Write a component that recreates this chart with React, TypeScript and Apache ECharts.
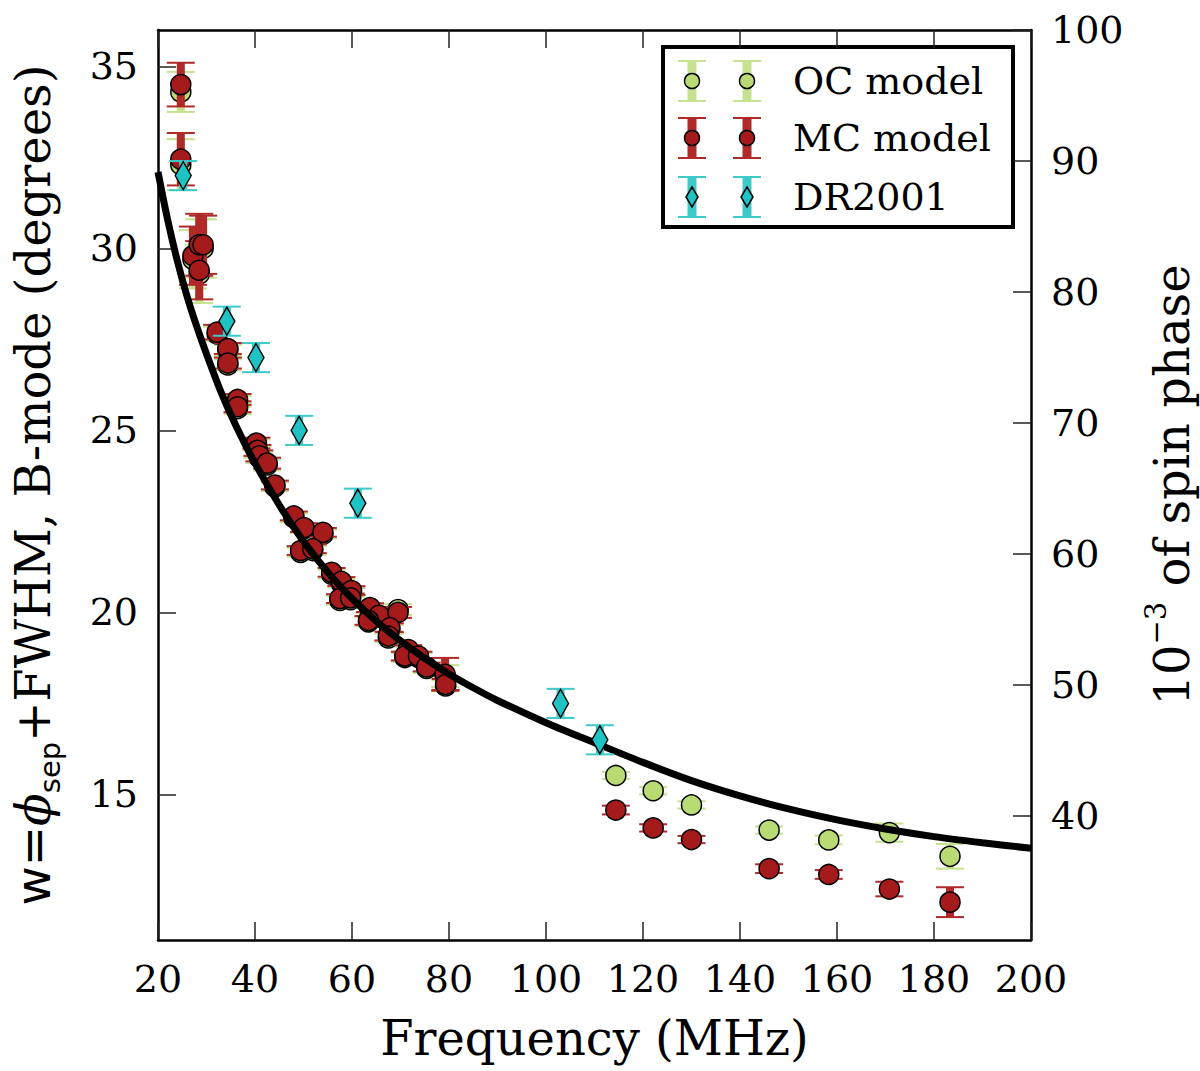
import { useEffect, useRef } from "react";
import * as echarts from "echarts";

const SERIF = '"DejaVu Serif", serif';
const SANS = '"DejaVu Sans", sans-serif';

// model frequencies (MHz), shared by OC and MC models
const modelFreq = [
  24.7, 24.7, 27.2, 28.5, 29.3, 28.5, 32.2, 34.4, 34.4, 36.4, 36.4, 40.3, 40.5, 40.9, 42.5,
  44.1, 48.0, 50.1, 54.0, 49.4, 51.9, 55.8, 57.8, 59.9, 57.5, 59.7, 63.7, 65.6, 69.5, 63.4,
  67.8, 67.5, 71.6, 70.9, 73.7, 75.4, 79.2, 79.3, 114.4, 122.1, 130.0, 146.0, 158.3, 170.8, 183.3,
];
const mcWidth = [
  34.5, 32.45, 29.8, 30.1, 30.1, 29.4, 27.7, 27.25, 26.85, 25.85, 25.65, 24.65, 24.45, 24.3, 24.1,
  23.5, 22.65, 22.33, 22.2, 21.7, 21.75, 21.1, 20.85, 20.6, 20.38, 20.4, 20.13, 19.92, 20.0, 19.78,
  19.58, 19.35, 18.98, 18.8, 18.8, 18.5, 18.3, 18.02, 14.57, 14.08, 13.76, 12.96, 12.8, 12.4, 12.04,
];
const mcErr = [
  0.6, 0.72, 0.8, 0.85, 0.8, 0.8, 0.2, 0.15, 0.15, 0.15, 0.15, 0.15, 0.15, 0.15, 0.15,
  0.12, 0.12, 0.12, 0.12, 0.12, 0.12, 0.12, 0.12, 0.12, 0.12, 0.12, 0.12, 0.12, 0.15, 0.12,
  0.12, 0.12, 0.12, 0.12, 0.12, 0.12, 0.45, 0.15, 0.12, 0.1, 0.1, 0.12, 0.12, 0.2, 0.41,
];
const ocWidth = [
  34.3, 32.3, 29.7, 30.0, 30.0, 29.3, 27.65, 27.2, 26.8, 25.8, 25.6, 24.6, 24.4, 24.25, 24.05,
  23.45, 22.6, 22.3, 22.15, 21.65, 21.7, 21.05, 20.8, 20.55, 20.33, 20.35, 20.1, 19.88, 20.08, 19.74,
  19.54, 19.3, 18.94, 18.76, 18.76, 18.46, 18.25, 17.98, 15.52, 15.1, 14.71, 14.02, 13.75, 13.95, 13.3,
];
const ocErr = [
  0.55, 0.7, 0.8, 0.8, 0.8, 0.8, 0.2, 0.15, 0.15, 0.15, 0.15, 0.15, 0.15, 0.15, 0.15,
  0.12, 0.12, 0.12, 0.12, 0.12, 0.12, 0.12, 0.12, 0.12, 0.12, 0.12, 0.12, 0.12, 0.15, 0.12,
  0.12, 0.12, 0.12, 0.12, 0.12, 0.12, 0.3, 0.15, 0.1, 0.1, 0.1, 0.1, 0.12, 0.25, 0.34,
];

// DR2001 measurements
const drFreq = [25.2, 34.2, 40.2, 49.1, 61.2, 103.0, 111.1];
const drWidth = [32.0, 28.0, 27.0, 25.0, 23.0, 17.5, 16.5];
const drErr = [0.4, 0.4, 0.4, 0.4, 0.4, 0.4, 0.4];

// fitted curve
const curveFreq = [
  20, 22, 24, 26, 28, 30, 33, 36, 40, 45, 50, 55, 60, 65, 70, 75, 80, 85, 90, 100,
  110, 120, 130, 140, 150, 160, 170, 180, 190, 200,
];
const curveWidth = [
  32.1, 30.78, 29.65, 28.68, 27.85, 27.1, 26.05, 25.15, 24.1, 22.95, 21.95, 21.1, 20.38, 19.76, 19.22,
  18.74, 18.31, 17.93, 17.58, 16.97, 16.42, 15.88, 15.38, 14.96, 14.6, 14.3, 14.05, 13.84, 13.67, 13.52,
];

const OC_FACE = "#b9db74";
const OC_BAR = "#c6e290";
const MC_FACE = "#a51b1b";
const MC_BAR = "#b02a2a";
const DR_FACE = "#1fc3c3";
const DR_BAR = "#3fcaca";

function errorBar(color: string, capHalf: number) {
  return (params: any, api: any) => {
    const x = api.value(0);
    const lo = api.coord([x, api.value(1)]);
    const hi = api.coord([x, api.value(2)]);
    return {
      type: "group",
      children: [
        {
          type: "line",
          shape: { x1: lo[0], y1: lo[1], x2: hi[0], y2: hi[1] },
          style: { stroke: color, lineWidth: 8 },
        },
        {
          type: "line",
          shape: { x1: lo[0] - capHalf, y1: lo[1], x2: lo[0] + capHalf, y2: lo[1] },
          style: { stroke: color, lineWidth: 2 },
        },
        {
          type: "line",
          shape: { x1: hi[0] - capHalf, y1: hi[1], x2: hi[0] + capHalf, y2: hi[1] },
          style: { stroke: color, lineWidth: 2 },
        },
      ],
    };
  };
}

function legendEntry(y: number, face: string, bar: string, diamond: boolean, label: string) {
  const items: any[] = [];
  [692, 747].forEach((x) => {
    items.push({
      type: "line",
      shape: { x1: x, y1: y - 20, x2: x, y2: y + 20 },
      style: { stroke: bar, lineWidth: 9 },
    });
    items.push({
      type: "line",
      shape: { x1: x - 14, y1: y - 20, x2: x + 14, y2: y - 20 },
      style: { stroke: bar, lineWidth: 2 },
    });
    items.push({
      type: "line",
      shape: { x1: x - 14, y1: y + 20, x2: x + 14, y2: y + 20 },
      style: { stroke: bar, lineWidth: 2 },
    });
    if (diamond) {
      items.push({
        type: "polygon",
        shape: { points: [[x, y - 10], [x + 6, y], [x, y + 10], [x - 6, y]] },
        style: { fill: face, stroke: "#000", lineWidth: 1.5 },
      });
    } else {
      items.push({
        type: "circle",
        shape: { cx: x, cy: y, r: 7.5 },
        style: { fill: face, stroke: "#000", lineWidth: 1.5 },
      });
    }
  });
  items.push({
    type: "text",
    x: 793,
    y: y,
    style: {
      text: label,
      font: `38px ${SERIF}`,
      fill: "#000",
      textVerticalAlign: "middle",
      verticalAlign: "middle",
    },
  });
  return items;
}

function getOption() {
  const ocBars = modelFreq.map((f, i) => [f, ocWidth[i] - ocErr[i], ocWidth[i] + ocErr[i]]);
  const mcBars = modelFreq.map((f, i) => [f, mcWidth[i] - mcErr[i], mcWidth[i] + mcErr[i]]);
  const drBars = drFreq.map((f, i) => [f, drWidth[i] - drErr[i], drWidth[i] + drErr[i]]);

  const tick = { show: true, inside: true, length: 18, lineStyle: { color: "#222", width: 1.5 } };
  const frame = { show: true, onZero: false, lineStyle: { color: "#000", width: 2.5 } };

  return {
    animation: false,
    backgroundColor: "#fff",
    grid: { left: 158, right: 169, top: 30, bottom: 131, outerBoundsMode: "none", containLabel: false },
    xAxis: [
      {
        type: "value",
        min: 20,
        max: 200,
        interval: 20,
        position: "bottom",
        name: "Frequency (MHz)",
        nameLocation: "middle",
        nameGap: 74,
        nameTextStyle: { fontFamily: SERIF, fontSize: 48, color: "#000" },
        axisLine: frame,
        axisTick: tick,
        axisLabel: { fontFamily: SERIF, fontSize: 38, color: "#000", margin: 20 },
        splitLine: { show: false },
      },
      {
        type: "value",
        min: 20,
        max: 200,
        interval: 20,
        position: "top",
        axisLine: frame,
        axisTick: tick,
        axisLabel: { show: false },
        splitLine: { show: false },
      },
    ],
    yAxis: [
      {
        type: "value",
        min: 11,
        max: 36,
        splitNumber: 5,
        position: "left",
        name: "{w|w=}{p|ϕ}{s|sep}{t|+FWHM, B-mode (degrees)}",
        nameLocation: "middle",
        nameRotate: 90,
        nameGap: 94,
        nameTextStyle: {
          color: "#000",
          rich: {
            w: { fontFamily: SANS, fontSize: 48, lineHeight: 62, color: "#000" },
            p: { fontFamily: SERIF, fontStyle: "italic", fontSize: 48, lineHeight: 62, color: "#000" },
            s: { fontFamily: SANS, fontSize: 29, lineHeight: 29, verticalAlign: "bottom", color: "#000" },
            t: { fontFamily: SERIF, fontSize: 48, lineHeight: 62, color: "#000" },
          },
        },
        axisLine: frame,
        axisTick: tick,
        axisLabel: {
          fontFamily: SERIF,
          fontSize: 38,
          color: "#000",
          margin: 20,
          showMinLabel: false,
          showMaxLabel: false,
        },
        splitLine: { show: false },
      },
      {
        type: "value",
        min: (11 / 360) * 1000,
        max: 100,
        splitNumber: 7,
        position: "right",
        name: "{n|10}{u|−3}{n| of spin phase}",
        nameLocation: "middle",
        nameRotate: 90,
        nameGap: 110,
        nameTextStyle: {
          color: "#000",
          rich: {
            n: { fontFamily: SERIF, fontSize: 48, lineHeight: 62, color: "#000" },
            u: { fontFamily: SERIF, fontSize: 29, lineHeight: 29, verticalAlign: "top", color: "#000" },
          },
        },
        axisLine: frame,
        axisTick: tick,
        axisLabel: {
          fontFamily: SERIF,
          fontSize: 38,
          color: "#000",
          margin: 20,
          showMinLabel: false,
        },
        splitLine: { show: false },
      },
    ],
    series: [
      {
        type: "custom",
        name: "OC err",
        renderItem: errorBar(OC_BAR, 14),
        encode: { x: 0, y: [1, 2] },
        data: ocBars,
        z: 1,
      },
      {
        type: "scatter",
        name: "OC model",
        data: modelFreq.map((f, i) => [f, ocWidth[i]]),
        symbol: "circle",
        symbolSize: 20,
        itemStyle: { color: OC_FACE, borderColor: "#000", borderWidth: 1.5, opacity: 1 },
        z: 2,
      },
      {
        type: "custom",
        name: "MC err",
        renderItem: errorBar(MC_BAR, 14),
        encode: { x: 0, y: [1, 2] },
        data: mcBars,
        z: 3,
      },
      {
        type: "scatter",
        name: "MC model",
        data: modelFreq.map((f, i) => [f, mcWidth[i]]),
        symbol: "circle",
        symbolSize: 20,
        itemStyle: { color: MC_FACE, borderColor: "#000", borderWidth: 1.5, opacity: 1 },
        z: 4,
      },
      {
        type: "line",
        name: "fit",
        data: curveFreq.map((f, i) => [f, curveWidth[i]]),
        showSymbol: false,
        symbol: "none",
        smooth: 0.3,
        lineStyle: { color: "#000", width: 7 },
        z: 5,
      },
      {
        type: "custom",
        name: "DR err",
        renderItem: errorBar(DR_BAR, 14),
        encode: { x: 0, y: [1, 2] },
        data: drBars,
        z: 6,
      },
      {
        type: "scatter",
        name: "DR2001",
        data: drFreq.map((f, i) => [f, drWidth[i]]),
        symbol: "diamond",
        symbolSize: [16, 28],
        itemStyle: { color: DR_FACE, borderColor: "#000", borderWidth: 1.5, opacity: 1 },
        z: 7,
      },
    ],
    graphic: [
      {
        type: "group",
        z: 100,
        children: [
          {
            type: "rect",
            shape: { x: 663, y: 47, width: 350, height: 180 },
            style: { fill: "#fff", stroke: "#000", lineWidth: 4 },
          },
          ...legendEntry(81, OC_FACE, OC_BAR, false, "OC model"),
          ...legendEntry(138, MC_FACE, MC_BAR, false, "MC model"),
          ...legendEntry(197, DR_FACE, DR_BAR, true, "DR2001"),
        ],
      },
    ],
  };
}

export default function App() {
  const chartRef = useRef<HTMLDivElement>(null);
  useEffect(() => {
    document.body.style.margin = "0";
    const chart = echarts.init(chartRef.current, null, { renderer: "svg" });
    chart.setOption(getOption() as any);
    return () => {
      chart.dispose();
    };
  }, []);
  return <div ref={chartRef} style={{ width: "1200px", height: "1071px" }} />;
}
